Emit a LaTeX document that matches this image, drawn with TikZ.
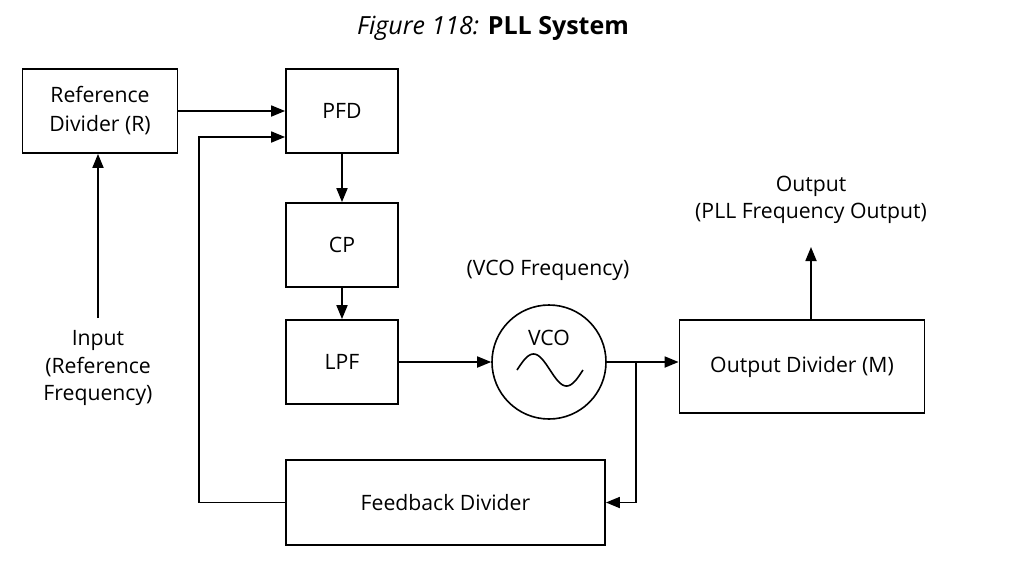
\documentclass[tikz,border=0pt]{standalone}
\usepackage{fontspec}
\setmainfont{Open Sans}
\usetikzlibrary{arrows.meta,positioning}

\begin{document}
\begin{tikzpicture}[x=0.5pt, y=-0.5pt,
    block/.style={draw, line width=0.9pt, align=center, inner sep=0pt,
                  font=\fontsize{10.6}{14.5}\selectfont,
                  minimum width=56pt, minimum height=42pt},
    osc/.style={draw, circle, line width=0.8pt, inner sep=0pt, minimum size=57pt},
    arr/.style={-{Triangle[length=7pt, width=5.5pt]}, line width=0.9pt},
    lbl/.style={align=center, font=\fontsize{10.6}{13.6}\selectfont}
  ]
    \useasboundingbox (0,0) rectangle (1033,580);

    \node (title) at (493,28) {\fontsize{12.5}{15}\selectfont\itshape Figure 118: \upshape\bfseries PLL System};

    \node[block, minimum width=77.5pt] (refdiv) at (100,111)  {Reference\\Divider (R)};
    \node[block]                       (pfd)    at (342,111)  {PFD};
    \node[block]                       (cp)     at (342,245)  {CP};
    \node[block]                       (lpf)    at (342,362)  {LPF};
    \node[osc]                         (vco)    at (549,362)  {};
    \node[block, minimum width=122.5pt, minimum height=46.5pt] (outdiv) at (802,366.5) {Output Divider (M)};
    \node[block, minimum width=159.5pt, minimum height=42.5pt] (fbdiv)  at (445.5,502.5) {Feedback Divider};

    % VCO symbol
    \node[lbl] (vcotxt) at (549,338) {VCO};
    \draw[line width=0.8pt] plot[domain=0:360, samples=60, smooth] ({517+0.18333*\x},{370-16*sin(\x)});

    \node[lbl] (vcofreq) at (548,270) {(VCO Frequency)};
    \node[lbl] (outlbl)  at (811,200) {Output\\(PLL Frequency Output)};
    \node[lbl] (inlbl)   at (98,368)  {Input\\(Reference\\Frequency)};

    \coordinate (tap)    at (636,362);
    \coordinate (outtip) at (811,247);
    \coordinate (inend)  at (98,318);

    \draw[arr] (refdiv) -- (pfd);
    \draw[arr] (fbdiv.west) -- ++(-86,0) |- ([yshift=-13pt]pfd.west);
    \draw[arr] (pfd) -- (cp);
    \draw[arr] (cp) -- (lpf);
    \draw[arr] (lpf) -- (vco);
    \draw[arr] (vco) -- (vco -| outdiv.west);
    \draw[arr] (tap) |- (fbdiv.east);
    \draw[arr] (outtip |- outdiv.north) -- (outtip);
    \draw[arr] (inend) -- (inend |- refdiv.south);
\end{tikzpicture}
\end{document}
